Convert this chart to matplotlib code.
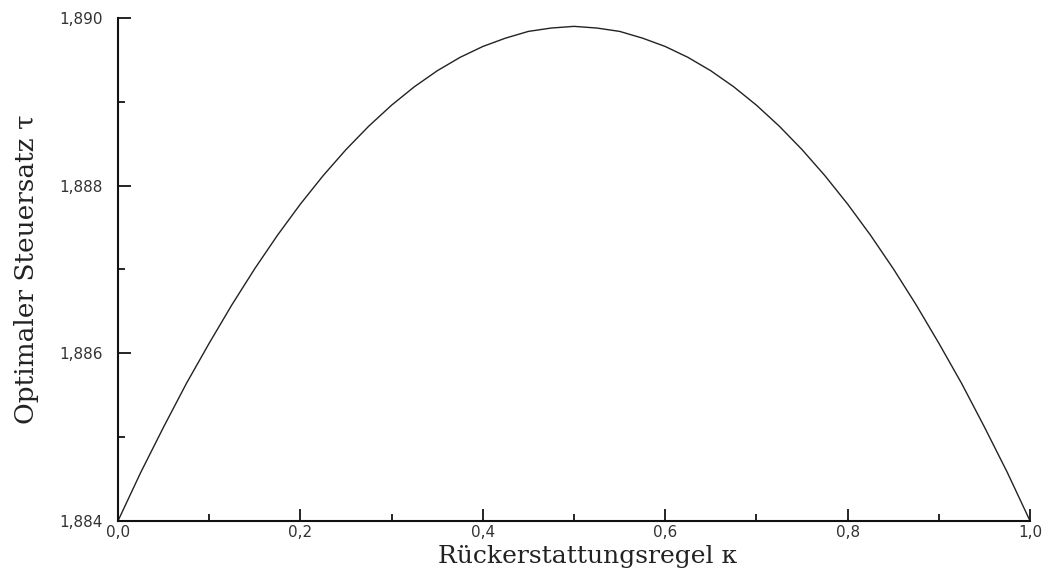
import matplotlib
matplotlib.use("Agg")
import matplotlib.pyplot as plt
from matplotlib.ticker import FixedLocator, MultipleLocator

# values
kappa = [0.000, 0.025, 0.050, 0.075, 0.100, 0.125, 0.150, 0.175, 0.200, 0.225,
         0.250, 0.275, 0.300, 0.325, 0.350, 0.375, 0.400, 0.425, 0.450, 0.475,
         0.500, 0.525, 0.550, 0.575, 0.600, 0.625, 0.650, 0.675, 0.700, 0.725,
         0.750, 0.775, 0.800, 0.825, 0.850, 0.875, 0.900, 0.925, 0.950, 0.975,
         1.000]
tau = [1.88400, 1.88458, 1.88512, 1.88564, 1.88612, 1.88658, 1.88701, 1.88741,
       1.88778, 1.88812, 1.88843, 1.88871, 1.88896, 1.88918, 1.88937, 1.88953,
       1.88966, 1.88976, 1.88984, 1.88988, 1.88990, 1.88988, 1.88984, 1.88976,
       1.88966, 1.88953, 1.88937, 1.88918, 1.88896, 1.88871, 1.88843, 1.88812,
       1.88778, 1.88741, 1.88701, 1.88658, 1.88612, 1.88564, 1.88512, 1.88458,
       1.88400]

x_ticks = [0.0, 0.2, 0.4, 0.6, 0.8, 1.0]
x_labels = ["0,0", "0,2", "0,4", "0,6", "0,8", "1,0"]
y_ticks = [1.884, 1.886, 1.888, 1.890]
y_labels = ["1,884", "1,886", "1,888", "1,890"]

fig = plt.figure(figsize=(10.43, 5.69), dpi=100)
ax = fig.add_axes([0.1131, 0.0844, 0.8745, 0.884])

ax.plot(kappa, tau, color="#222222", lw=1.0)

ax.set_xlim(0, 1)
ax.set_ylim(1.884, 1.890)

ax.xaxis.set_major_locator(FixedLocator(x_ticks))
ax.set_xticklabels(x_labels)
ax.yaxis.set_major_locator(FixedLocator(y_ticks))
ax.set_yticklabels(y_labels)
ax.xaxis.set_minor_locator(MultipleLocator(0.1))
ax.yaxis.set_minor_locator(MultipleLocator(0.001))

for s in ["top", "right"]:
    ax.spines[s].set_visible(False)
for s in ["left", "bottom"]:
    ax.spines[s].set_linewidth(1.5)
    ax.spines[s].set_color("#111111")

ax.tick_params(which="major", direction="in", length=9, width=1.2,
               labelsize=11, labelcolor="#333333")
ax.tick_params(which="minor", direction="in", length=5, width=1.2)
ax.tick_params(axis="y", pad=11)
ax.tick_params(axis="x", pad=3)

ax.set_xlabel("Rückerstattungsregel κ", family="DejaVu Serif", fontsize=18,
              color="#222222", va="baseline")
ax.xaxis.set_label_coords(0.515, -0.083)
ax.set_ylabel("Optimaler Steuersatz τ", family="DejaVu Serif", fontsize=19,
              color="#222222", va="top")
ax.yaxis.set_label_coords(-0.114, 0.5)

fig.savefig("out.png", dpi=100)
